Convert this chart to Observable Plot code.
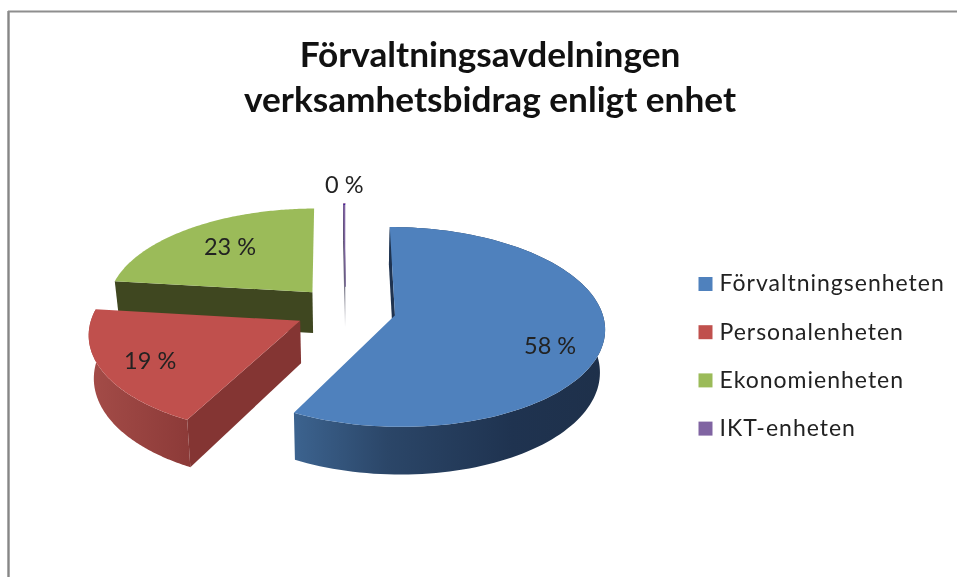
<!DOCTYPE html>
<html>
<head>
<meta charset="utf-8">
<script src="https://cdn.jsdelivr.net/npm/d3@7"></script>
<script src="https://cdn.jsdelivr.net/npm/@observablehq/plot@0.6"></script>
<style>
html,body{margin:0;padding:0;background:#fff;overflow:hidden}
svg{display:block;filter:blur(0.45px)}
.leg text{letter-spacing:1px}
</style>
</head>
<body>
<div id="chart"></div>
<script>
// data
const titleLines = ["Förvaltningsavdelningen", "verksamhetsbidrag enligt enhet"];
const categories = ["Förvaltningsenheten", "Personalenheten", "Ekonomienheten", "IKT-enheten"];
const shares = [57.7, 19.3, 23, 0.15];
const topColors = ["#4f81bd", "#c0504d", "#9bbb59", "#8064a2"];
const wallColors = ["#1f3350", "#843533", "#3f4720", "url(#wallPurple)"];
const rimColors = ["url(#rimBlue)", "url(#rimRed)", "none", "none"];
const labelRadius = [0.77, 0.775, 0.68, 1.27];
const labelTurn = [8.6, -1.6, 1.4, 0];
const drawOrder = [2, 3, 1, 0];

// 3D pie projection (layout)
const k = 0.1168, A = 97.2, Ax = 206.5, cx = 345, cy = 309, explode = 0.245, H = 41.8, m = 0.02;
const project = (p, q, h) => {
  const w = 1 - k * q;
  return {x: cx + Ax * p / w * (1 - m * h), y: cy + (A * q + H * h) / w};
};
const total = d3.sum(shares);
const cum = d3.cumsum(shares);
const slices = shares.map((v, i) => {
  const a0 = (i ? cum[i - 1] : 0) / total * 2 * Math.PI;
  const a1 = cum[i] / total * 2 * Math.PI;
  const mid = (a0 + a1) / 2;
  const ox = explode * Math.sin(mid), oz = -explode * Math.cos(mid);
  const at = (a, r, h) => project(ox + r * Math.sin(a), oz - r * Math.cos(a), h);
  const arc = h => d3.range(0, 121).map(j => at(a0 + (a1 - a0) * j / 120, 1, h));
  return {
    i, mid, at,
    top: [at(a0, 0, 0), ...arc(0)],
    rim: [...arc(0), ...arc(1).reverse()],
    wall: [at(a0, 0, 0), at(a0, 1, 0), at(a0, 1, 1), at(a0, 0, 1)]
  };
});

const poly = (pts, fill, extra = {}) =>
  Plot.line(pts, {x: "x", y: "y", fill, stroke: "none", curve: "linear", ...extra});

const defs = () => {
  const d = d3.create("svg:defs");
  const grad = (id, stops, vertical) => {
    const g = d.append("linearGradient").attr("id", id)
      .attr("x1", 0).attr("y1", 0).attr("x2", vertical ? 0 : 1).attr("y2", vertical ? 1 : 0);
    stops.forEach(([o, c]) => g.append("stop").attr("offset", o).attr("stop-color", c));
  };
  grad("rimBlue", [[0, "#3c638f"], [0.3, "#2b4668"], [0.7, "#1f3350"], [1, "#1e304a"]]);
  grad("rimRed", [[0, "#a44c48"], [1, "#8c3a38"]]);
  grad("wallPurple", [[0, "#4a3c62"], [0.6, "#55556a"], [0.8, "#b0b0b8"], [1, "#ffffff"]], true);
  return d.node();
};

const marks = [defs];
for (const i of drawOrder) {
  const s = slices[i];
  marks.push(poly(s.rim, rimColors[i]));
  marks.push(poly(s.wall, wallColors[i], i === 3 ? {stroke: wallColors[i], strokeWidth: 1} : {}));
  marks.push(poly(s.top, topColors[i], i === 3 ? {stroke: topColors[i], strokeWidth: 0.8} : {}));
}

// frame
const frameX = 8, frameY = 11;
marks.push(Plot.ruleX([frameX], {y1: frameY, y2: 577, stroke: "#868686", strokeWidth: 2.4}));
marks.push(Plot.ruleY([frameY], {x1: frameX, x2: 957, stroke: "#8e8e8e", strokeWidth: 2}));

// title
marks.push(Plot.text(titleLines, {
  x: () => 489.5, y: (d, i) => 55 + i * 45, text: d => d,
  fontFamily: "Lato", fontWeight: "bold", fontSize: 35.2, fill: "#111", lineAnchor: "middle"
}));

// data labels
marks.push(Plot.text(slices, {
  x: s => s.at(s.mid + labelTurn[s.i] * Math.PI / 180, labelRadius[s.i], 0).x,
  y: s => s.at(s.mid + labelTurn[s.i] * Math.PI / 180, labelRadius[s.i], 0).y + 1,
  text: s => Math.round(shares[s.i]) + " %",
  fontFamily: "Lato", fontSize: 23.5, fill: "#222", lineAnchor: "middle"
}));

// legend
const legendY = i => 283.5 + i * 48.2;
marks.push(Plot.dot(categories, {
  x: () => 705, y: (d, i) => legendY(i), symbol: "square", r: 7.9,
  fill: (d, i) => topColors[i], stroke: "none"
}));
marks.push(Plot.text(categories, {
  x: () => 719, y: (d, i) => legendY(i), text: d => d, textAnchor: "start",
  fontFamily: "Lato", fontSize: 23, fill: "#222", lineAnchor: "middle", className: "leg"
}));

document.getElementById("chart").append(Plot.plot({
  width: 957, height: 577, margin: 0,
  x: {type: "identity", axis: null}, y: {type: "identity", axis: null},
  color: {type: "identity"},
  style: {background: "#fff"},
  marks
}));
</script>
</body>
</html>
